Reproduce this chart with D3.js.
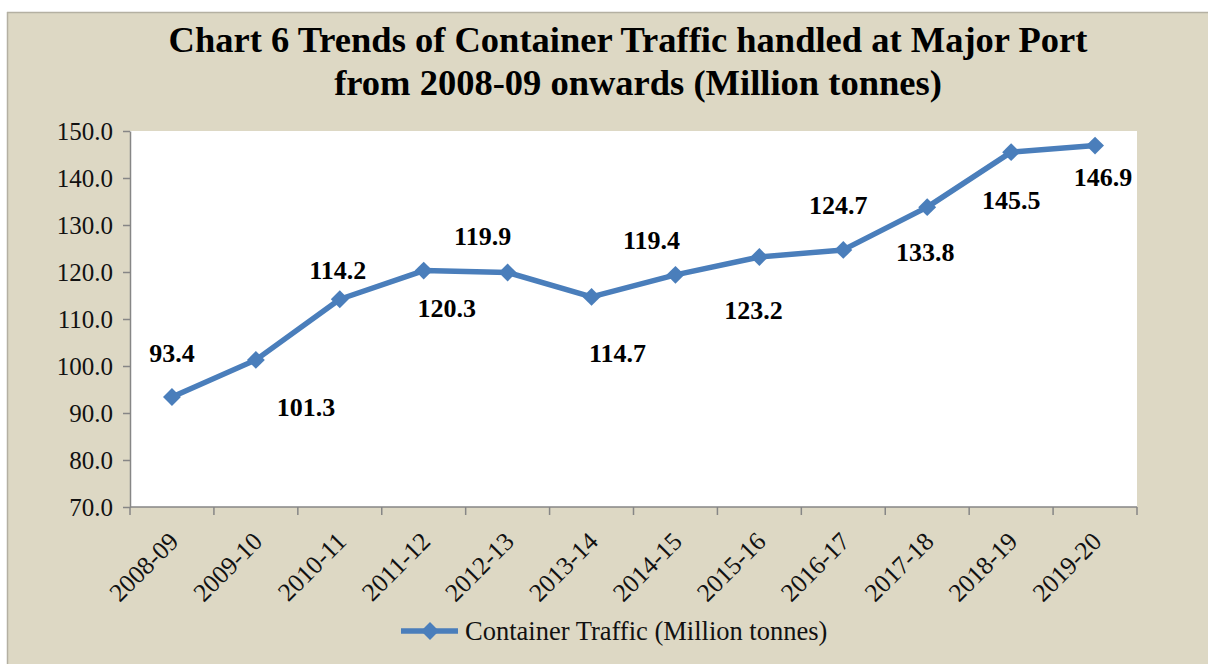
<!DOCTYPE html>
<html>
<head>
<meta charset="utf-8">
<script src="https://cdn.jsdelivr.net/npm/d3@7"></script>
<style>
  html, body { margin: 0; padding: 0; background: #ffffff; }
  svg { display: block; }
</style>
</head>
<body>
<svg id="chart" width="1208" height="664"></svg>
<script>
const categories = ["2008-09","2009-10","2010-11","2011-12","2012-13","2013-14","2014-15","2015-16","2016-17","2017-18","2018-19","2019-20"];
const values = [93.4, 101.3, 114.2, 120.3, 119.9, 114.7, 119.4, 123.2, 124.7, 133.8, 145.5, 146.9];
const yTicks = [70, 80, 90, 100, 110, 120, 130, 140, 150];
const titleLines = ["Chart 6 Trends of Container Traffic handled at Major Port", "from 2008-09 onwards (Million tonnes)"];
const seriesName = "Container Traffic (Million tonnes)";
// label offsets (dx, dy) relative to each point, as placed in the original
const labelDx = [0, 50, -2, 23, -25, 26, -24, -6, -5, -2, 0, 8];
const labelDy = [-44, 47, -29, 37, -37, 56, -35, 53, -45, 45, 48, 31];

const svg = d3.select("#chart");
const W = 1208, H = 664;
const serif = "'Liberation Serif', 'Times New Roman', serif";
const blue = "#4A7EBB";

// background box
svg.append("rect").attr("x", 7).attr("y", 12).attr("width", W - 7).attr("height", H - 12)
  .attr("fill", "#DDD8C4");
svg.append("line").attr("x1", 7).attr("x2", W).attr("y1", 12.5).attr("y2", 12.5)
  .attr("stroke", "#B4B0A2").attr("stroke-width", 1.5);
svg.append("line").attr("x1", 7.5).attr("x2", 7.5).attr("y1", 12).attr("y2", H)
  .attr("stroke", "#B4B0A2").attr("stroke-width", 1.5);

const plot = { left: 130, right: 1137, top: 131, bottom: 507 };

svg.append("rect").attr("x", plot.left).attr("y", plot.top)
  .attr("width", plot.right - plot.left).attr("height", plot.bottom - plot.top)
  .attr("fill", "#ffffff");

const x = d3.scaleBand().domain(categories).range([plot.left, plot.right]);
const y = d3.scaleLinear().domain([70, 150]).range([plot.bottom, plot.top]);

// title
svg.append("g").selectAll("text").data(titleLines).join("text")
  .attr("x", (d, i) => i === 0 ? 628 : 638).attr("y", (d, i) => 52 + i * 43)
  .attr("text-anchor", "middle")
  .attr("font-family", serif).attr("font-weight", "bold").attr("font-size", 36.5)
  .attr("fill", "#000").text(d => d);

// y axis
const yAxis = d3.axisLeft(y).tickValues(yTicks).tickFormat(d3.format(".1f")).tickSize(7).tickSizeOuter(0).tickPadding(10);
const gy = svg.append("g").attr("transform", `translate(${plot.left},0)`).call(yAxis);
gy.select(".domain").attr("stroke", "#868686").attr("stroke-width", 1.5);
gy.selectAll(".tick line").attr("stroke", "#868686").attr("stroke-width", 1.5);
gy.selectAll(".tick text").attr("font-family", serif).attr("font-size", 25).attr("fill", "#111");

// x axis (ticks between categories)
const gx = svg.append("g").attr("transform", `translate(0,${plot.bottom})`);
gx.append("line").attr("x1", plot.left).attr("x2", plot.right).attr("y1", 0).attr("y2", 0)
  .attr("stroke", "#868686").attr("stroke-width", 1.5);
const boundaries = categories.map(c => x(c)).concat([x(categories[categories.length - 1]) + x.bandwidth()]);
gx.selectAll("line.tk").data(boundaries).join("line").attr("class", "tk")
  .attr("x1", d => d).attr("x2", d => d).attr("y1", 0).attr("y2", 8)
  .attr("stroke", "#868686").attr("stroke-width", 1.5);
gx.selectAll("text").data(categories).join("text")
  .attr("transform", d => `translate(${x(d) + x.bandwidth() / 2 + 8},${36}) rotate(-45)`)
  .attr("text-anchor", "end")
  .attr("font-family", serif).attr("font-size", 25.5).attr("fill", "#111")
  .text(d => d);

// line
const cx = (d, i) => x(categories[i]) + x.bandwidth() / 2;
const line = d3.line().x((d, i) => cx(d, i)).y(d => y(d));
svg.append("path").datum(values).attr("d", line)
  .attr("fill", "none").attr("stroke", blue).attr("stroke-width", 5.5)
  .attr("stroke-linejoin", "round");

svg.append("g").selectAll("path").data(values).join("path")
  .attr("d", d3.symbol().type(d3.symbolSquare).size(160))
  .attr("transform", (d, i) => `translate(${cx(d, i)},${y(d)}) rotate(45)`)
  .attr("fill", blue);

// data labels
svg.append("g").selectAll("text").data(values).join("text")
  .attr("x", (d, i) => cx(d, i) + labelDx[i])
  .attr("y", (d, i) => y(d) + labelDy[i])
  .attr("dy", "0.35em")
  .attr("text-anchor", "middle")
  .attr("font-family", serif).attr("font-weight", "bold").attr("font-size", 26)
  .attr("fill", "#000").text(d => d.toFixed(1));

// legend
const lg = svg.append("g");
lg.append("line").attr("x1", 401).attr("x2", 458).attr("y1", 631).attr("y2", 631)
  .attr("stroke", blue).attr("stroke-width", 5.5);
lg.append("path").attr("d", d3.symbol().type(d3.symbolSquare).size(160))
  .attr("transform", "translate(430,631) rotate(45)").attr("fill", blue);
lg.append("text").attr("x", 465).attr("y", 631).attr("dy", "0.35em")
  .attr("font-family", serif).attr("font-size", 26.5).attr("fill", "#111").text(seriesName);
</script>
</body>
</html>
